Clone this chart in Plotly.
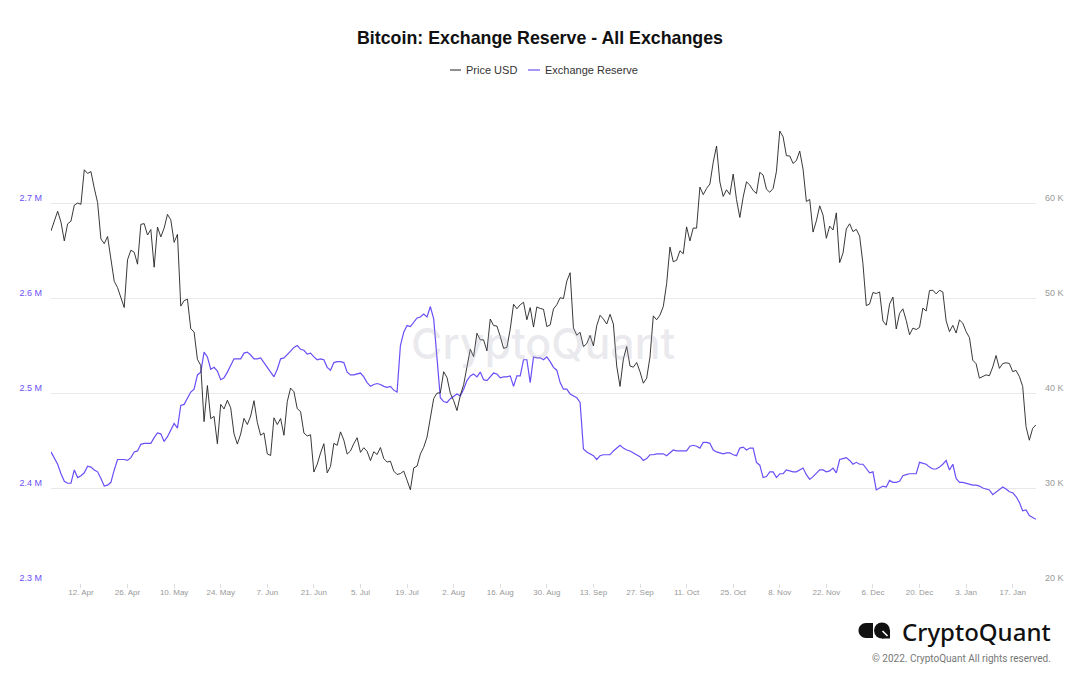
import pandas as pd
import plotly.graph_objects as go

# daily values, 3 Apr 2021 .. 24 Jan 2022
start_date = "2021-04-03"

# Price USD, thousands
price_k = [
    57.06, 58.20, 59.13, 57.99, 56.01, 57.81, 58.09, 59.77, 60.00, 59.86, 63.50, 63.11, 63.31, 61.57,
    60.05, 56.22, 55.72, 56.47, 53.91, 51.76, 51.09, 50.05, 49.00, 54.02, 55.03, 54.82, 53.56, 57.75,
    57.83, 56.63, 57.21, 53.24, 57.47, 56.43, 57.36, 58.80, 58.23, 55.86, 56.70, 49.15, 49.72, 49.88,
    46.76, 46.43, 43.54, 42.91, 36.99, 40.78, 37.30, 37.54, 34.66, 38.80, 38.32, 39.24, 38.44, 35.70,
    34.62, 35.68, 37.33,
    36.68, 37.57, 39.19, 36.89, 35.55, 35.80, 33.59, 33.42, 37.39, 36.68, 37.31, 35.55, 39.10, 40.52,
    40.14, 38.35, 38.05, 35.79, 35.48, 35.60, 31.68, 32.51, 33.68, 34.66, 31.59, 32.28, 34.70, 34.49,
    35.91, 35.04,
    33.57, 33.90, 34.67, 35.29, 33.75, 34.24, 33.86, 32.88, 33.82, 33.52, 34.26, 33.09, 32.73, 32.82,
    31.78, 31.42, 31.52, 31.78, 30.82, 29.81, 32.11, 32.31, 33.58, 34.29, 35.35, 37.34, 39.41, 39.99,
    40.01, 42.24, 41.63,
    39.97, 39.20, 38.15, 39.75, 40.87, 42.82, 44.61, 43.82, 46.29, 45.60, 45.59, 44.43, 47.79, 47.10,
    47.05, 45.96, 44.70, 44.80, 46.72, 49.34, 48.87, 49.29, 49.55, 47.71, 48.99, 46.94, 49.06, 48.90,
    48.81, 46.99, 47.17,
    48.85, 49.29, 50.03, 49.94, 51.77, 52.66, 46.86, 46.08, 46.39, 44.88, 45.20, 46.06, 44.96, 47.09,
    48.18, 47.78, 47.26, 48.28, 47.26, 42.84, 40.69, 43.57, 44.90, 42.84, 42.72, 43.21, 42.24, 41.03,
    41.56, 43.79,
    48.12, 47.71, 48.20, 49.11, 51.51, 55.36, 53.81, 53.97, 54.97, 54.66, 57.49, 56.01, 57.37, 57.35,
    61.67, 60.88, 61.53, 62.00, 64.28, 66.00, 62.21, 60.69, 61.39, 60.89, 63.04, 60.36, 58.48, 60.62,
    62.23, 61.89, 61.32,
    61.00, 63.23, 62.94, 61.45, 61.13, 61.53, 63.33, 67.57, 66.97, 64.98, 64.95, 64.16, 64.47, 65.47,
    63.56, 60.16, 60.37, 56.94, 58.12, 59.70, 58.73, 56.29, 57.57, 57.16, 58.96, 53.73, 54.72, 57.27,
    57.81, 56.99,
    57.23, 56.51, 53.60, 49.20, 49.37, 50.58, 50.47, 50.64, 47.59, 47.14, 49.36, 50.10, 46.74, 48.38,
    48.86, 47.63, 46.13, 46.83, 46.68, 46.91, 48.94, 48.63, 50.78, 50.82, 50.43, 50.81, 50.64, 47.59,
    46.46, 47.12, 46.31,
    47.69, 47.35, 46.46, 45.83, 43.45, 43.08, 41.56, 41.73, 41.91, 41.82, 42.74, 43.95, 42.59, 43.10,
    43.18, 43.11, 42.25, 42.38, 41.74, 40.68, 36.46, 35.03, 36.28, 36.65,
]

# Exchange reserve, million BTC
reserve_m = [
    2.438, 2.432, 2.425, 2.415, 2.407, 2.405, 2.405, 2.419, 2.411, 2.413, 2.416, 2.423, 2.422, 2.419,
    2.417, 2.410, 2.402, 2.403, 2.406, 2.419, 2.430, 2.430, 2.430, 2.429, 2.432, 2.438, 2.439, 2.446,
    2.447, 2.447, 2.447, 2.453, 2.458, 2.457, 2.449, 2.454, 2.461, 2.468, 2.463, 2.487, 2.488, 2.495,
    2.501, 2.504, 2.519, 2.522, 2.543, 2.538, 2.525, 2.527, 2.523, 2.514, 2.516, 2.522, 2.529, 2.536,
    2.536, 2.536, 2.542, 2.543, 2.540, 2.536, 2.536, 2.537, 2.532, 2.527, 2.522, 2.517, 2.525, 2.536,
    2.537, 2.540, 2.544, 2.548, 2.550, 2.546, 2.545, 2.541, 2.542, 2.538, 2.535, 2.536, 2.535, 2.527,
    2.524, 2.532, 2.533, 2.533, 2.532, 2.522, 2.519, 2.519, 2.520, 2.521, 2.517, 2.511, 2.507, 2.509,
    2.510, 2.509, 2.507, 2.506, 2.507, 2.503, 2.501, 2.550, 2.564, 2.571, 2.570, 2.574, 2.579, 2.580,
    2.583, 2.580, 2.591, 2.578, 2.540, 2.495, 2.491, 2.490, 2.494, 2.497, 2.499, 2.497, 2.504, 2.513,
    2.518, 2.520, 2.517, 2.522, 2.514, 2.513, 2.517, 2.521, 2.520, 2.516, 2.517, 2.517, 2.518, 2.507,
    2.518, 2.518, 2.535, 2.535, 2.511, 2.538, 2.537, 2.537, 2.535, 2.538, 2.533, 2.527, 2.524, 2.511,
    2.504, 2.504, 2.499, 2.497, 2.495, 2.490, 2.441, 2.438, 2.436, 2.434, 2.430, 2.434, 2.435, 2.435,
    2.435, 2.439, 2.442, 2.445, 2.442, 2.440, 2.439, 2.437, 2.435, 2.433, 2.429, 2.431, 2.435, 2.435,
    2.436, 2.436, 2.436, 2.434, 2.437, 2.440, 2.439, 2.439, 2.439, 2.439, 2.444, 2.445, 2.444, 2.442,
    2.448, 2.448, 2.447, 2.440, 2.438, 2.437, 2.436, 2.437, 2.437, 2.435, 2.434, 2.442, 2.443, 2.440,
    2.442, 2.442, 2.427, 2.424, 2.411, 2.412, 2.417, 2.417, 2.411, 2.415, 2.415, 2.419, 2.418, 2.417,
    2.417, 2.419, 2.421, 2.414, 2.409, 2.412, 2.416, 2.419, 2.419, 2.417, 2.418, 2.421, 2.416, 2.430,
    2.431, 2.432, 2.429, 2.425, 2.427, 2.425, 2.425, 2.421, 2.416, 2.417, 2.398, 2.400, 2.402, 2.401,
    2.408, 2.406, 2.406, 2.407, 2.413, 2.414, 2.415, 2.415, 2.415, 2.427, 2.426, 2.425, 2.422, 2.420,
    2.420, 2.422, 2.425, 2.429, 2.419, 2.425, 2.410, 2.406, 2.406, 2.405, 2.404, 2.403, 2.403, 2.402,
    2.400, 2.399, 2.398, 2.393, 2.396, 2.398, 2.401, 2.399, 2.396, 2.395, 2.391, 2.385, 2.376, 2.377,
    2.371, 2.369, 2.367,
]

dates = pd.date_range(start_date, periods=len(price_k), freq="D")

left_ticks = [2.3, 2.4, 2.5, 2.6, 2.7, 2.8]
left_text = ["2.3 M", "2.4 M", "2.5 M", "2.6 M", "2.7 M", ""]
right_ticks = [20, 30, 40, 50, 60, 70]
right_text = ["20 K", "30 K", "40 K", "50 K", "60 K", ""]

PRICE_COLOR = "#222222"
RESERVE_COLOR = "#6a4ff6"

# plot area in pixels (left, right, top, bottom)
L, R, T, B = 51, 1036, 108, 583


def px(x):
    return (x - L) / (R - L)


def py(y):
    return (B - y) / (B - T)


fig = go.Figure()
fig.add_trace(go.Scatter(
    x=dates, y=price_k, name="Price USD", mode="lines", yaxis="y2",
    line=dict(color=PRICE_COLOR, width=0.9),
))
fig.add_trace(go.Scatter(
    x=dates, y=reserve_m, name="Exchange Reserve", mode="lines",
    line=dict(color=RESERVE_COLOR, width=1.2),
))

# CryptoQuant logo mark
d_pts = "M {},{} L {},{} C {},{} {},{} {},{} C {},{} {},{} {},{} L {},{} Z".format(
    px(873), py(623), px(866), py(623),
    px(861.9), py(623), px(858.5), py(626.4), px(858.5), py(630.5),
    px(858.5), py(634.6), px(861.9), py(638), px(866), py(638),
    px(873), py(638),
)
shapes = [
    # legend symbols
    dict(type="line", xref="paper", yref="paper", x0=px(450), x1=px(461), y0=py(70), y1=py(70),
         line=dict(color=PRICE_COLOR, width=1)),
    dict(type="line", xref="paper", yref="paper", x0=px(528), x1=px(540), y0=py(70), y1=py(70),
         line=dict(color=RESERVE_COLOR, width=1.2)),
    # logo
    dict(type="path", xref="paper", yref="paper", path=d_pts,
         fillcolor="#111111", line=dict(width=0)),
    dict(type="circle", xref="paper", yref="paper",
         x0=px(874), x1=px(890), y0=py(638.5), y1=py(622.5),
         fillcolor="#111111", line=dict(width=0)),
    dict(type="rect", xref="paper", yref="paper",
         x0=px(882), x1=px(890), y0=py(638.5), y1=py(630.5),
         fillcolor="#111111", line=dict(width=0)),
    dict(type="line", xref="paper", yref="paper",
         x0=px(882.5), x1=px(887.5), y0=py(631), y1=py(636),
         line=dict(color="white", width=1.6)),
]

legend_font = dict(family="Liberation Sans", size=11, color="#333333")
annotations = [
    dict(text="CryptoQuant", x=px(543), y=py(343), xref="paper", yref="paper",
         yanchor="middle", showarrow=False,
         font=dict(family="Inter", size=43, color="rgba(170,170,190,0.26)", weight=500)),
    dict(text="Price USD", x=px(464), y=py(70), xref="paper", yref="paper",
         xanchor="left", yanchor="middle", showarrow=False, font=legend_font),
    dict(text="Exchange Reserve", x=px(543), y=py(70), xref="paper", yref="paper",
         xanchor="left", yanchor="middle", showarrow=False, font=legend_font),
    dict(text="CryptoQuant", x=px(1053), y=py(631), xref="paper", yref="paper",
         xanchor="right", yanchor="middle", showarrow=False,
         font=dict(family="Noto Sans", size=24, color="#111111", weight=500)),
    dict(text="© 2022. CryptoQuant All rights reserved.", x=px(1053), y=py(658),
         xref="paper", yref="paper", xanchor="right", yanchor="middle", showarrow=False,
         font=dict(family="Roboto", size=10, color="#777777")),
]

fig.update_layout(
    width=1080, height=675,
    margin=dict(l=L, r=1080 - R, t=T, b=675 - B),
    paper_bgcolor="white", plot_bgcolor="white",
    showlegend=False,
    title=dict(text="<b>Bitcoin: Exchange Reserve - All Exchanges</b>", x=0.5, xanchor="center",
               y=1 - 38 / 675, yanchor="middle",
               font=dict(family="Liberation Sans", size=17.8, color="#111111")),
    xaxis=dict(
        type="date", range=[dates[0], dates[-1]],
        tick0="2021-04-12", dtick=14 * 86400000, tickformat="%-d. %b",
        showgrid=False, zeroline=False, showline=False,
        ticks="outside", ticklen=4, tickcolor="#dddddd", ticklabelstandoff=-3,
        tickfont=dict(family="Liberation Sans", size=8, color="#999999"),
    ),
    yaxis=dict(
        range=[2.3, 2.8], tickvals=left_ticks, ticktext=left_text,
        showgrid=True, gridcolor="#e9e9e9", gridwidth=1, zeroline=False,
        ticklabelshift=-5, ticklabelstandoff=8,
        tickfont=dict(family="Liberation Sans", size=9, color=RESERVE_COLOR),
    ),
    yaxis2=dict(
        range=[20, 70], tickvals=right_ticks, ticktext=right_text,
        overlaying="y", side="right", showgrid=False, zeroline=False,
        ticklabelshift=-5, ticklabelstandoff=8,
        tickfont=dict(family="Liberation Sans", size=9, color="#999999"),
    ),
    shapes=shapes,
    annotations=annotations,
)

fig.write_html("out.html", config={"displayModeBar": False},
               post_script="document.body.style.margin='0';")
